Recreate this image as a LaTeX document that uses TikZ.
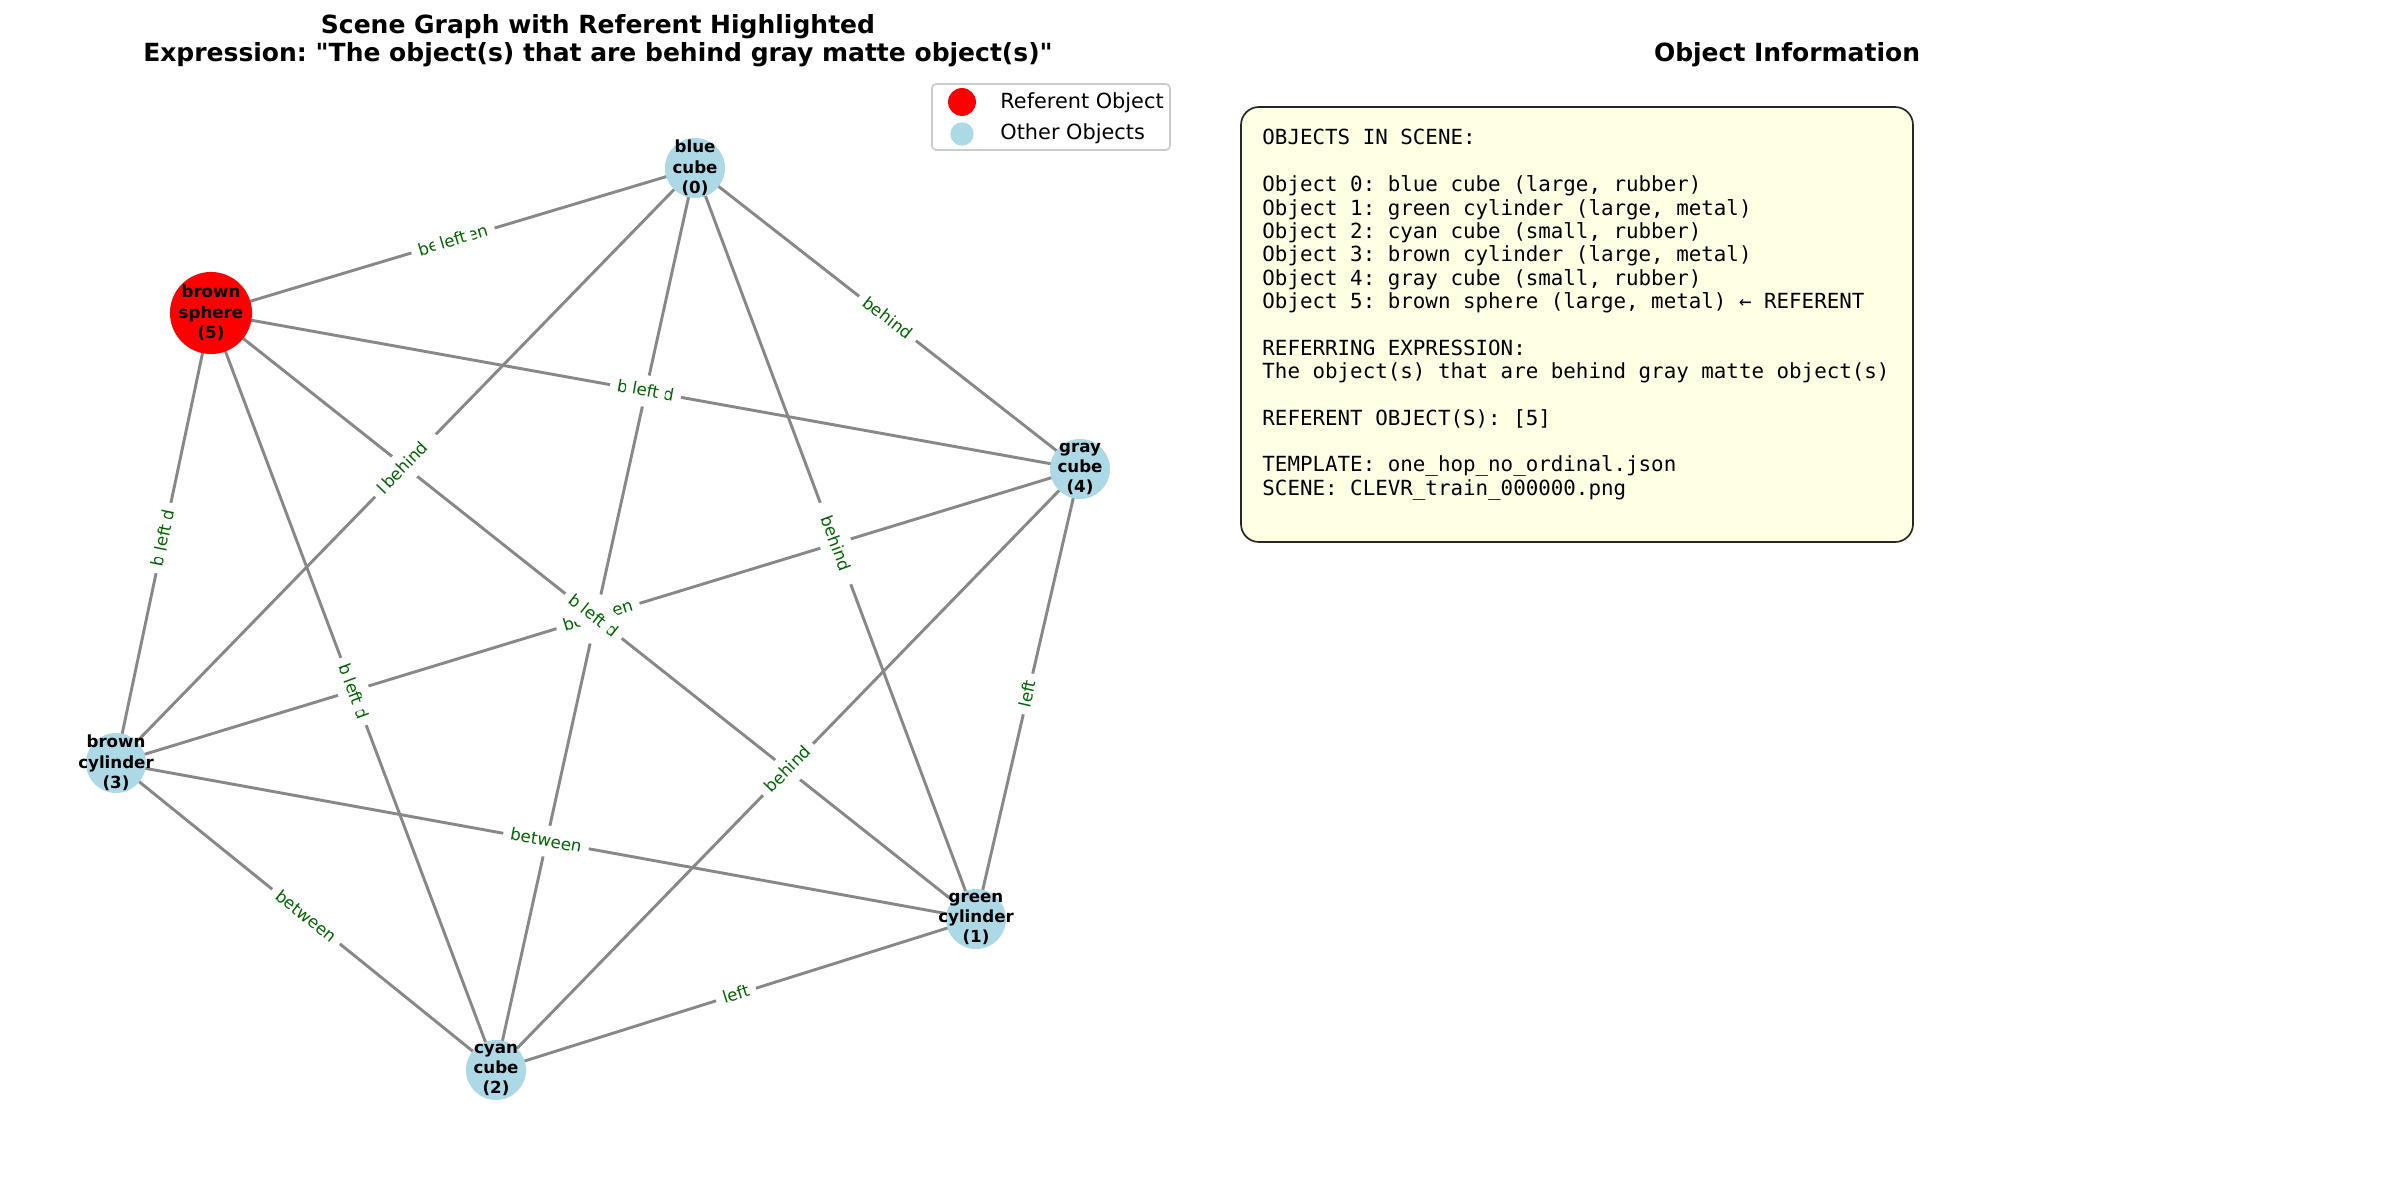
\documentclass[tikz,border=0pt]{standalone}
\usepackage{fontspec}
\setmainfont{DejaVu Sans}[Ligatures=TeXOff]
\setmonofont{DejaVu Sans Mono}
\frenchspacing
\pgfdeclarelayer{bg}
\pgfsetlayers{bg,main}
\definecolor{edgegray}{HTML}{888888}
\definecolor{labgreen}{HTML}{006400}
\definecolor{nodeblue}{HTML}{ADD8E6}
\definecolor{infoyellow}{HTML}{FFFFE3}
\definecolor{legendframe}{HTML}{CCCCCC}
\tikzset{
  bnode/.style={circle, fill=nodeblue, minimum size=28.8pt, inner sep=0pt},
  rnode/.style={circle, fill=red, minimum size=39.4pt, inner sep=0pt},
  nlab/.style={font=\bfseries\fontsize{8}{9.8}\selectfont, align=center, inner sep=0pt},
  edge/.style={draw=edgegray, line width=1.4pt},
  elab/.style={sloped, fill=white, text=labgreen, font=\fontsize{8}{9.6}\selectfont,
    inner xsep=3.5pt, inner ysep=2.5pt, text height=0.76em, text depth=0.24em, rounded corners=1pt},
  etop/.style={elab, inner xsep=2.8pt},
  titlefont/.style={font=\bfseries\fontsize{12}{14.4}\selectfont, anchor=base},
  infoline/.style={font=\ttfamily\fontsize{10}{11.2}\selectfont, anchor=base west, inner sep=0pt},
  legtext/.style={font=\fontsize{10}{12}\selectfont, anchor=base west, inner sep=0pt}
}
\begin{document}
\begin{tikzpicture}[x=0.48pt,y=-0.48pt]
\useasboundingbox (0,0) rectangle (2385,1179);

% titles
\node[titlefont] (title1) at (598,34) {Scene Graph with Referent Highlighted};
\node[titlefont] (title2) at (598,62) {Expression: "The object(s) that are behind gray matte object(s)"};
\node[titlefont] (title3) at (1787,62) {Object Information};

% nodes
\node[bnode] (n0) at (695,168) {};
\node[rnode] (n5) at (211,313) {};
\node[bnode] (n4) at (1080,469) {};
\node[bnode] (n3) at (116,763) {};
\node[bnode] (n1) at (976,919) {};
\node[bnode] (n2) at (496,1070) {};
\node[nlab] (t0) at (n0) {blue\\cube\\(0)};
\node[nlab] (t5) at (n5) {brown\\sphere\\(5)};
\node[nlab] (t4) at (n4) {gray\\cube\\(4)};
\node[nlab] (t3) at (n3) {brown\\cylinder\\(3)};
\node[nlab] (t1) at (n1) {green\\cylinder\\(1)};
\node[nlab] (t2) at (n2) {cyan\\cube\\(2)};

% edges
\begin{pgfonlayer}{bg}
\foreach \a/\b in {0/5,0/3,0/2,0/1,0/4,5/4,5/3,5/2,5/1,4/3,4/2,4/1,3/1,3/2,1/2}
  \draw[edge] (n\a.center) -- (n\b.center);
\end{pgfonlayer}

% edge labels
\path (n0.center) -- node[elab, midway] {between} node[etop, midway, inner xsep=2.6pt] {left} (n5.center);
\path (n0.center) -- node[elab, midway] {\rlap{l}\phantom{between}} node[etop, midway, inner xsep=1.5pt] {behind} (n3.center);
\path (n0.center) -- node[elab, midway] {behind} (n4.center);
\path (n0.center) -- node[elab, midway] {\phantom{between}} node[etop, midway, inner xsep=1.5pt] {behind} (n1.center);
\path (n5.center) -- node[elab, midway] {behind} node[etop, midway, inner xsep=3pt] {left} (n4.center);
\path (n5.center) -- node[elab, midway] {behind} node[etop, midway, inner xsep=3pt] {left} (n3.center);
\path (n5.center) -- node[elab, midway] {behind} node[etop, midway, inner xsep=3pt] {left} (n2.center);
\path (n4.center) -- node[elab, midway] {behind} (n2.center);
\path (n4.center) -- node[elab, midway] {left} (n1.center);
\path (n3.center) -- node[elab, midway] {between} (n1.center);
\path (n3.center) -- node[elab, midway] {between} (n2.center);
\path (n1.center) -- node[elab, midway] {left} (n2.center);
% central cluster
\path (n0.center) -- node[elab, midway, minimum width=24pt] {} (n2.center);
\path (n4.center) -- node[elab, midway] {between} (n3.center);
\path (n5.center) -- node[elab, midway] {behind} node[etop, midway, inner xsep=3pt] {left} (n1.center);

% legend
\draw[rounded corners=2pt, draw=legendframe, line width=0.8pt, fill=white] (932,84) rectangle (1170,150);
\node[circle, fill=red, minimum size=13.4pt, inner sep=0pt] (lm1) at (962,102) {};
\node[circle, fill=nodeblue, minimum size=11.2pt, inner sep=0pt] (lm2) at (962,134) {};
\node[legtext] (lt1) at (1000,108) {Referent Object};
\node[legtext] (lt2) at (1000,139.5) {Other Objects};

% info box
\draw[rounded corners=8.6pt, fill=infoyellow, draw=black!85, line width=0.8pt] (1241,107) rectangle (1913,542);
\node[infoline] (i0) at (1262,145.0) {OBJECTS IN SCENE:};
\node[infoline] (i2) at (1262,191.7) {Object 0: blue cube (large, rubber)};
\node[infoline] (i3) at (1262,215.0) {Object 1: green cylinder (large, metal)};
\node[infoline] (i4) at (1262,238.3) {Object 2: cyan cube (small, rubber)};
\node[infoline] (i5) at (1262,261.7) {Object 3: brown cylinder (large, metal)};
\node[infoline] (i6) at (1262,285.0) {Object 4: gray cube (small, rubber)};
\node[infoline] (i7) at (1262,308.3) {Object 5: brown sphere (large, metal) ← REFERENT};
\node[infoline] (i9) at (1262,355.0) {REFERRING EXPRESSION:};
\node[infoline] (i10) at (1262,378.3) {The object(s) that are behind gray matte object(s)};
\node[infoline] (i12) at (1262,425.0) {REFERENT OBJECT(S): [5]};
\node[infoline] (i14) at (1262,471.7) {TEMPLATE: one\_hop\_no\_ordinal.json};
\node[infoline] (i15) at (1262,495.0) {SCENE: CLEVR\_train\_000000.png};
\end{tikzpicture}
\end{document}
